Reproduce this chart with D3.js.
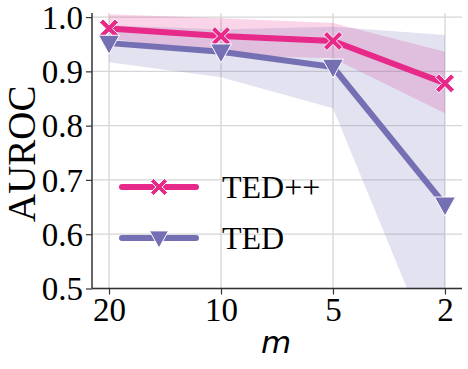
<!DOCTYPE html>
<html>
<head>
<meta charset="utf-8">
<script src="https://cdn.jsdelivr.net/npm/d3@7"></script>
<style>
  body { margin: 0; background: #fff; }
  text { font-family: "Liberation Serif", "Times New Roman", serif; fill: #000; }
</style>
</head>
<body>
<div id="chart"></div>
<script>
// data
var categories = ["20", "10", "5", "2"];
var tedppMean  = [0.979, 0.965, 0.956, 0.878];
var tedppLow   = [0.961, 0.930, 0.924, 0.823];
var tedppHigh  = [1.005, 0.998, 0.989, 0.936];
var tedMean    = [0.952, 0.936, 0.908, 0.654];
var tedLow     = [0.917, 0.889, 0.832, 0.330];
var tedHigh    = [0.985, 0.977, 0.982, 0.967];
var yTicks     = [0.5, 0.6, 0.7, 0.8, 0.9, 1.0];

var W = 468, H = 369;
var plotL = 92, plotR = 462, plotT = 13, plotB = 288.5;

var svg = d3.select("#chart").append("svg")
    .attr("width", W)
    .attr("height", H);

// scales
var x = d3.scalePoint().domain(categories).range([plotL, plotR]).padding(0.152);
var y = d3.scaleLinear().domain([0.5, 1.0075]).range([plotB, plotT]);

// clip for the bands
svg.append("clipPath").attr("id", "plot")
  .append("rect")
    .attr("x", plotL).attr("y", plotT)
    .attr("width", plotR - plotL).attr("height", plotB - plotT);

// grid
var grid = svg.append("g").attr("stroke", "#d6d6d6").attr("stroke-width", 1.3);
grid.selectAll(".h").data(yTicks).enter().append("line")
    .attr("x1", plotL).attr("x2", plotR)
    .attr("y1", d => y(d)).attr("y2", d => y(d));
grid.selectAll(".v").data(categories).enter().append("line")
    .attr("x1", d => x(d)).attr("x2", d => x(d))
    .attr("y1", plotT).attr("y2", plotB);

var pink = "#e7298a", purple = "#7570b3";

function rows(mean, lo, hi) {
  return categories.map((c, i) => ({c: c, m: mean[i], lo: lo[i], hi: hi[i]}));
}
var tedpp = rows(tedppMean, tedppLow, tedppHigh);
var ted = rows(tedMean, tedLow, tedHigh);

var band = d3.area()
    .x(d => x(d.c))
    .y0(d => y(d.lo))
    .y1(d => y(d.hi));

var line = d3.line()
    .x(d => x(d.c))
    .y(d => y(d.m));

var bands = svg.append("g").attr("clip-path", "url(#plot)");
bands.append("path").datum(tedpp)
    .attr("d", band).attr("fill", pink).attr("fill-opacity", 0.2);
bands.append("path").datum(ted)
    .attr("d", band).attr("fill", purple).attr("fill-opacity", 0.2);

// marker shapes
function xMark(s) {
  // filled "X", s = half size
  var a = s * 0.36;
  var pts = [[0,-a],[s-a,-s],[s,-s+a],[a,0],[s,s-a],[s-a,s],[0,a],[-s+a,s],[-s,s-a],[-a,0],[-s,-s+a],[-s+a,-s]];
  return "M" + pts.map(p => p.join(",")).join("L") + "Z";
}
function triDown(s) {
  return "M" + (-s) + "," + (-s * 0.75) + "L" + s + "," + (-s * 0.75) + "L0," + (s * 1.05) + "Z";
}

function drawSeries(data, color, shape) {
  var g = svg.append("g");
  g.append("path").datum(data)
      .attr("d", line)
      .attr("fill", "none")
      .attr("stroke", color)
      .attr("stroke-width", 6)
      .attr("stroke-linejoin", "round");
  g.selectAll(".mk").data(data).enter().append("path")
      .attr("transform", d => "translate(" + x(d.c) + "," + y(d.m) + ")")
      .attr("d", shape)
      .attr("fill", color)
      .attr("stroke", "#fff")
      .attr("stroke-width", 1);
}
drawSeries(tedpp, pink, xMark(9.5));
drawSeries(ted, purple, triDown(10.5));

// axes
var yAxis = svg.append("g")
    .attr("transform", "translate(" + plotL + ",0)")
    .call(d3.axisLeft(y).tickValues(yTicks).tickFormat(d3.format(".1f")).tickSize(6).tickPadding(3));
var xAxis = svg.append("g")
    .attr("transform", "translate(0," + plotB + ")")
    .call(d3.axisBottom(x).tickSize(6).tickPadding(3));
yAxis.select(".domain").attr("d", "M0," + plotT + "V" + plotB);
xAxis.select(".domain").attr("d", "M" + plotL + ",0H" + plotR);
[yAxis, xAxis].forEach(a => {
  a.select(".domain").attr("stroke", "#333").attr("stroke-width", 1.5);
  a.selectAll(".tick line").attr("stroke", "#333").attr("stroke-width", 1.2);
  a.selectAll(".tick text")
    .style("font-family", "'Liberation Serif', serif")
    .style("font-size", "33px").attr("fill", "#000");
});
yAxis.selectAll(".tick text").attr("dy", "0.34em");

// axis titles
svg.append("text")
    .attr("transform", "translate(35," + ((plotT + plotB) / 2 + 3) + ") rotate(-90)")
    .attr("text-anchor", "middle")
    .style("font-size", "39px")
    .text("AUROC");
svg.append("text")
    .attr("x", (plotL + plotR) / 2 - 1)
    .attr("y", 353)
    .attr("text-anchor", "middle")
    .style("font-family", "'DejaVu Sans', sans-serif")
    .style("font-style", "italic")
    .style("font-size", "31px")
    .text("m");

// legend
var legend = [{name: "TED++", color: pink, shape: xMark(8.5)}, {name: "TED", color: purple, shape: triDown(9.5)}];
var lg = svg.append("g");
legend.forEach((d, i) => {
  var ly = 187 + i * 51;
  lg.append("line")
      .attr("x1", 122).attr("x2", 196).attr("y1", ly).attr("y2", ly)
      .attr("stroke", d.color).attr("stroke-width", 6).attr("stroke-linecap", "round");
  lg.append("path")
      .attr("transform", "translate(159," + ly + ")")
      .attr("d", d.shape).attr("fill", d.color).attr("stroke", "#fff").attr("stroke-width", 1);
  lg.append("text")
      .attr("x", 222).attr("y", ly + 11)
      .style("font-size", "32px")
      .text(d.name);
});
</script>
</body>
</html>
